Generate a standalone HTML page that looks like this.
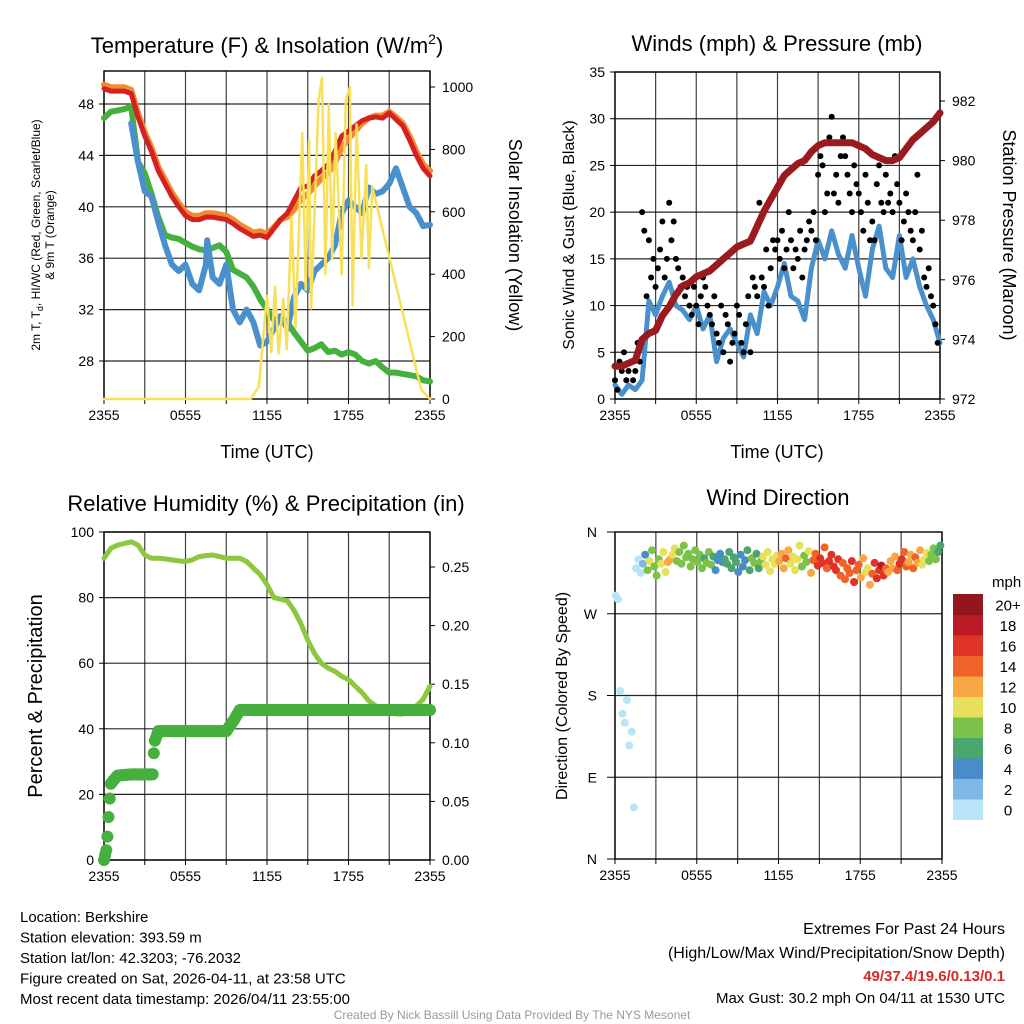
<!DOCTYPE html>
<html><head><meta charset="utf-8">
<style>
html,body{margin:0;padding:0;background:#fff;}
svg{display:block;font-family:"Liberation Sans",Arial,sans-serif;}
</style></head>
<body>
<svg id="c" width="1024" height="1024" viewBox="0 0 1024 1024" xmlns="http://www.w3.org/2000/svg"></svg>
<script>
// ---------- DATA (half-hourly unless noted) ----------
const xTickLabels = ["2355","0555","1155","1755","2355"];
const tempTicks = [28,32,36,40,44,48];
const solarTicks = [0,200,400,600,800,1000];
const windTicks = [0,5,10,15,20,25,30,35];
const presTicks = [972,974,976,978,980,982];
const rhTicks = [0,20,40,60,80,100];
const precipTicks = [0.00,0.05,0.10,0.15,0.20,0.25];
const dirTickLabels = ["N","E","S","W","N"];
const dirTickVals = [0,90,180,270,360];
const cbarLabels = ["0","2","4","6","8","10","12","14","16","18","20+"];

const tempRed = [49.2,49.0,49.0,49.0,48.8,47.0,45.5,44.3,42.8,41.8,40.8,40.0,39.3,39.0,39.0,39.2,39.2,39.1,39.0,38.7,38.3,38.0,37.7,37.8,37.6,38.3,39.0,39.5,40.5,41.5,41.6,42.4,42.8,43.3,44.3,45.5,45.9,46.3,46.7,46.9,47.0,46.9,47.3,46.8,46.3,45.2,44.0,43.0,42.4];
const temp9m = [49.5,49.3,49.3,49.3,49.1,47.3,45.8,44.6,43.1,42.1,41.1,40.3,39.6,39.3,39.3,39.5,39.5,39.4,39.3,39.0,38.6,38.3,38.0,38.1,37.9,38.4,39.0,39.2,39.8,40.6,41.0,41.6,42.2,42.6,43.4,44.6,45.3,45.9,46.5,46.9,47.1,47.1,47.4,47.0,46.5,45.5,44.3,43.3,42.8];
const dewGreen = [46.9,47.4,47.5,47.6,47.8,43.5,42.6,41.0,39.2,37.8,37.6,37.5,37.2,36.9,36.7,36.6,36.8,37.0,36.5,35.1,34.8,34.5,33.8,32.8,32.0,31.2,31.3,31.0,30.2,29.5,28.8,29.0,29.3,28.7,28.8,28.5,28.7,28.5,28.0,27.8,28.0,27.5,27.1,27.1,27.0,26.9,26.8,26.5,26.4];
const chillT = [2.0,2.5,3,3.5,4,4.5,5,5.5,6,6.5,7,7.5,7.6,8,8.5,9,9.5,10,10.5,11,11.5,12,12.5,13,13.5,14,14.5,15,15.5,16,16.5,17,17.5,18,18.5,19,19.5,20,20.5,21,21.5,22,22.5,23,23.5,24];
const chillBlue = [46.5,43.5,41.2,40.8,38.8,37.0,35.5,35.0,35.5,34.0,33.5,35.5,37.4,34.5,34.0,35.5,32.0,31.0,32.0,31.0,29.2,29.5,30.5,31.5,30.5,33.0,34.0,33.5,35.0,35.5,36.0,37.0,39.5,40.5,40.0,39.5,41.5,41.0,41.2,41.8,43.0,41.5,40.0,39.5,38.5,38.6];
const solarT = [0,10.8,11.4,11.75,12.0,12.3,12.6,12.85,13.2,13.45,13.8,14.1,14.6,14.85,15.1,15.25,15.8,16.05,16.3,16.55,16.8,17.05,17.5,17.8,18.1,18.3,18.6,18.95,19.3,19.5,19.75,23.35,24];
const solarV = [0,0,40,210,330,150,360,146,321,160,583,230,852,350,830,290,958,1030,400,943,450,852,400,958,1000,300,880,450,750,420,680,30,0];

const windBlue = [1.5,0.5,1.5,1.0,2.0,10.5,9.0,11.0,12.5,10.0,9.5,8.5,10.0,7.5,9.0,4.0,6.5,7.5,6.0,4.5,9.0,7.0,11.5,10.0,12.0,14.5,11.0,10.5,8.5,14.0,17.0,15.0,18.0,15.5,14.0,17.5,14.0,11.0,16.0,18.5,14.0,13.0,17.5,13.0,15.0,12.0,10.0,8.5,6.0];
const pressure = [973.1,973.1,973.2,973.3,974.0,974.2,974.3,974.8,975.1,975.5,975.8,975.9,976.1,976.2,976.3,976.5,976.7,976.9,977.1,977.2,977.3,977.8,978.3,978.7,979.1,979.5,979.7,979.9,980.0,980.3,980.5,980.6,980.6,980.6,980.6,980.6,980.5,980.4,980.2,980.1,980.0,980.0,980.1,980.4,980.7,980.9,981.1,981.3,981.6];
// gusts every 10 minutes
const gusts = [2,1,4,3,5,2, 3,4,2,3,6,4, 20,18,11,17,13,15, 12,14,16,19,13,15, 21,17,19,15,14,12, 13,11,12,10,9,12, 10,8,11,13,12,10, 9,8,11,7,6,10, 5,9,8,4,6,7, 10,9,6,5,8,11, 5,13,12,11,21,13, 12,16,10,14,17,16, 17,15,18,14,16,20, 17,14,16,15,18,13, 16,17,19,18,20,17, 24,26,25,20,22,28, 30.2,22,24,21,26,28, 26,24,22,20,25,23, 22,20,18,24,21,17, 19,17,23,25,21,20, 24,21,22,20,26,23, 21,17,19,22,20,18, 17,20,24,16,18,13, 12,14,11,10,8,6];
const rh = [92,95,96,96.5,97,96,93,92,92,91.8,91.5,91.2,91,91.5,92.5,92.8,93,92.5,92,92,92,91,89,87,84,80,79.5,79,76,72,67,63,60,58.5,57.5,56,55,53,51,48.5,47,45.5,45,44.5,44.5,45.5,47,49,53];
const precipT = [0,0.1,0.2,0.3,0.4,0.5,0.7,1.0,2.0,3.6,3.7,4.0,9.0,9.6,10.0,24];
const precipV = [0,0.005,0.01,0.03,0.05,0.065,0.068,0.072,0.073,0.073,0.10,0.11,0.11,0.12,0.128,0.128];
// wind direction every 10 minutes (deg)
const windDir = [290,286,185,160,150,175,125,140,57,
320,330,315,325,335,318,328,340,322,312,330,325,338,316,327,
330,335,342,328,338,325,345,332,336,322,330,340,327,335,320,331,326,338,324,333,318,329,336,327,
330,325,338,320,332,327,316,335,322,329,340,318,331,326,336,320,328,333,324,338,317,330,325,334,
328,336,320,331,340,325,333,318,330,345,322,334,327,339,315,329,336,323,331,326,343,320,328,335,
322,318,330,312,326,308,320,315,328,305,318,324,310,331,316,320,302,314,326,309,318,323,312,320,
316,328,320,333,318,325,330,338,322,327,335,320,332,326,340,324,330,337,328,335,342,330,338,345];

const cbarColors = ["#b9e3f7","#7fb8e4","#4a8cc8","#4aa66d","#7cc24a","#e7e05a","#f7a845","#ef6329","#de3326","#bb1a24","#92161b"];

// ---------- helpers ----------
const NS="http://www.w3.org/2000/svg";
const svg=document.getElementById('c');
function mk(tag,attrs,parent,text){const e=document.createElementNS(NS,tag);for(const k in attrs)e.setAttribute(k,attrs[k]);if(text!==undefined)e.textContent=text;(parent||svg).appendChild(e);return e;}
function lin(d0,d1,r0,r1){return v=>r0+(v-d0)/(d1-d0)*(r1-r0);}
function interp(ts,vs,t){if(t<=ts[0])return vs[0];for(let i=1;i<ts.length;i++){if(t<=ts[i]){const f=(t-ts[i-1])/(ts[i]-ts[i-1]);return vs[i-1]+f*(vs[i]-vs[i-1]);}}return vs[vs.length-1];}
const halfT = rh.map((_,i)=>i*0.5);

function frame(name,x0,x1,y0,y1,hTicks,yS,xS){
  const g=mk('g',{});
  
  
  for(let h=0;h<=24;h+=3){const x=xS(h);mk('line',{x1:x,x2:x,y1:y0,y2:y1,stroke:'#000','stroke-width':1.2,'stroke-opacity':0.75},g);}
  hTicks.forEach(v=>{const y=yS(v);mk('line',{x1:x0,x2:x1,y1:y,y2:y,stroke:'#000','stroke-width':1.2,'stroke-opacity':0.85},g);});
  mk('rect',{x:x0,y:y0,width:x1-x0,height:y1-y0,fill:'none',stroke:'#000','stroke-width':1.4},g);
  return g;
}
function xTicks(xS,yb,name){
  const g=mk('g',{});
  
  
  for(let h=0;h<=24;h+=3){mk('line',{x1:xS(h),x2:xS(h),y1:yb,y2:yb+5,stroke:'#000'},g);}
  xTickLabels.forEach((l,i)=>{mk('text',{x:xS(i*6),y:yb+21,'text-anchor':'middle','font-size':14},g,l);});
}
function yTicks(vals,yS,x,side,fmt,name){
  const g=mk('g',{});
  
  
  vals.forEach(v=>{const y=yS(v);
    mk('line',{x1:x,x2:x+(side==='l'?-5:5),y1:y,y2:y,stroke:'#000'},g);
    mk('text',{x:side==='l'?x-10:x+12,y:y+5,'text-anchor':side==='l'?'end':'start','font-size':14},g,fmt(v));});
}
function path(pts,attrs,name){
  const d=pts.map((p,i)=>(i?'L':'M')+p[0].toFixed(1)+','+p[1].toFixed(1)).join('');
  const e=mk('path',Object.assign({d:d,fill:'none','stroke-linejoin':'round','stroke-linecap':'round'},attrs));
  
  
  return e;
}
function text(x,y,s,attrs,name){const e=mk('text',Object.assign({x:x,y:y},attrs),svg,s);return e;}

// ---------- Panel 1 ----------
{
const X0=104,X1=430,Y0=71,Y1=399;
const xS=lin(0,24,X0,X1), tS=lin(28,48,361,104), sS=lin(0,1000,399,87);
frame('temperature',X0,X1,Y0,Y1,tempTicks,tS,xS);
xTicks(xS,Y1,'temperature');
yTicks(tempTicks,tS,X0,'l',v=>v,'temperature-y-tick-labels');
yTicks(solarTicks,sS,X1,'r',v=>v,'solar-y-tick-labels');
path(dewGreen.map((v,i)=>[xS(halfT[i]),tS(v)]),{stroke:'#46b03e','stroke-width':6},'dewpoint-line');
path(chillBlue.map((v,i)=>[xS(chillT[i]),tS(v)]),{stroke:'#4a90cc','stroke-width':6},'windchill-line');
path(temp9m.map((v,i)=>[xS(halfT[i]),tS(v)]),{stroke:'#f28a30','stroke-width':6},'temp-9m-line');
path(tempRed.map((v,i)=>[xS(halfT[i]),tS(v)]),{stroke:'#d42222','stroke-width':5},'temp-2m-line');
path(solarV.map((v,i)=>[xS(solarT[i]),sS(v)]),{stroke:'#f8e05a','stroke-width':2.5},'solar-line');
text(267,53,'',{'text-anchor':'middle','font-size':22},'temperature-title').innerHTML='Temperature (F) &amp; Insolation (W/m<tspan dy="-9" font-size="14">2</tspan><tspan dy="9">)</tspan>';
text(267,458,'Time (UTC)',{'text-anchor':'middle','font-size':18},'temperature-x-title');
const t1=text(0,0,'',{'text-anchor':'middle','font-size':12,transform:'translate(40,235) rotate(-90)'},'temperature-y-title');
t1.innerHTML='2m T, T<tspan dy="3" font-size="9">d</tspan><tspan dy="-3">, HI/WC (Red, Green, Scarlet/Blue)</tspan>';
text(0,0,'& 9m T (Orange)',{'text-anchor':'middle','font-size':12,transform:'translate(54,235) rotate(-90)'},'temperature-y-title-2');
text(0,0,'Solar Insolation (Yellow)',{'text-anchor':'middle','font-size':18,transform:'translate(509,235) rotate(90)'},'solar-y-title');
}

// ---------- Panel 2 ----------
{
const X0=615,X1=940,Y0=72,Y1=399;
const xS=lin(0,24,X0,X1), wS=lin(0,35,399,72), pS=lin(972,982,399,101);
frame('winds',X0,X1,Y0,Y1,windTicks,wS,xS);
xTicks(xS,Y1,'winds');
yTicks(windTicks,wS,X0,'l',v=>v,'wind-y-tick-labels');
yTicks(presTicks,pS,X1,'r',v=>v,'pressure-y-tick-labels');
path(windBlue.map((v,i)=>[xS(halfT[i]),wS(v)]),{stroke:'#4a90cc','stroke-width':5},'wind-speed-line');
const g=mk('g',{});


gusts.forEach((v,i)=>{const c=mk('circle',{cx:xS(i/6).toFixed(1),cy:wS(v).toFixed(1),r:3,fill:'#000'},g);

});
path(pressure.map((v,i)=>[xS(halfT[i]),pS(v)]),{stroke:'#9a1a1e','stroke-width':7},'pressure-line');
text(777,51,'Winds (mph) & Pressure (mb)',{'text-anchor':'middle','font-size':22},'winds-title');
text(777,458,'Time (UTC)',{'text-anchor':'middle','font-size':18},'winds-x-title');
text(0,0,'Sonic Wind & Gust (Blue, Black)',{'text-anchor':'middle','font-size':16,transform:'translate(574,235) rotate(-90)'},'wind-y-title');
text(0,0,'Station Pressure (Maroon)',{'text-anchor':'middle','font-size':18,transform:'translate(1003,235) rotate(90)'},'pressure-y-title');
}

// ---------- Panel 3 ----------
{
const X0=104,X1=430,Y0=532,Y1=860;
const xS=lin(0,24,X0,X1), rS=lin(0,100,860,532), qS=lin(0,0.25,860,567);
frame('humidity',X0,X1,Y0,Y1,rhTicks,rS,xS);
xTicks(xS,Y1,'humidity');
yTicks(rhTicks,rS,X0,'l',v=>v,'humidity-y-tick-labels');
yTicks(precipTicks,qS,X1,'r',v=>v.toFixed(2),'precip-y-tick-labels');
path(rh.map((v,i)=>[xS(halfT[i]),rS(v)]),{stroke:'#8dc63f','stroke-width':5},'humidity-line');
const g=mk('g',{});


for(let k=0;k<=288;k++){const t=k/12;const v=interp(precipT,precipV,t);
  const c=mk('circle',{cx:xS(t).toFixed(1),cy:qS(v).toFixed(1),r:6,fill:'#46b03e'},g);
  
  }
text(266,511,'Relative Humidity (%) & Precipitation (in)',{'text-anchor':'middle','font-size':22},'humidity-title');
text(0,0,'Percent & Precipitation',{'text-anchor':'middle','font-size':20,transform:'translate(42,696) rotate(-90)'},'humidity-y-title');
}

// ---------- Panel 4 ----------
{
const X0=615,X1=942,Y0=532,Y1=859;
const xS=lin(0,24,X0,X1), dS=lin(0,360,859,532);
frame('direction',X0,X1,Y0,Y1,[90,180,270],dS,xS);
xTicks(xS,Y1,'direction');
const g0=mk('g',{});


dirTickVals.forEach((v,i)=>{mk('line',{x1:X0,x2:X0-8,y1:dS(v),y2:dS(v),stroke:'#000'},g0);mk('text',{x:X0-18,y:dS(v)+5,'text-anchor':'end','font-size':14},g0,dirTickLabels[i]);});
const g=mk('g',{});


windDir.forEach((d,i)=>{const t=i/6+0.05;const sp=interp(halfT,windBlue,t);
  const idx=Math.max(0,Math.min(10,Math.floor(sp/2)));
  const c=mk('circle',{cx:xS(t).toFixed(1),cy:dS(d).toFixed(1),r:4,fill:cbarColors[idx]},g);
  
  });
text(778,505,'Wind Direction',{'text-anchor':'middle','font-size':22},'direction-title');
text(0,0,'Direction (Colored By Speed)',{'text-anchor':'middle','font-size':16,transform:'translate(567,696) rotate(-90)'},'direction-y-title');
// colorbar
const cb=mk('g',{});


const top=594,h=20.5;
for(let i=0;i<11;i++){const y=top+(10-i)*h;
  mk('rect',{x:953,y:y,width:30,height:h+0.5,fill:cbarColors[i]},cb);
  mk('text',{x:1008,y:y+h/2+6,'text-anchor':'middle','font-size':15},cb,cbarLabels[i]);}
mk('text',{x:992,y:587,'font-size':15},cb,'mph');
}

// ---------- Footer ----------
const info=["Location: Berkshire","Station elevation: 393.59 m","Station lat/lon: 42.3203; -76.2032","Figure created on Sat, 2026-04-11, at 23:58 UTC","Most recent data timestamp: 2026/04/11 23:55:00"];
info.forEach((s,i)=>text(20,922+i*20.5,s,{'font-size':15},'station-info-line'));
text(1005,934,'Extremes For Past 24 Hours',{'text-anchor':'end','font-size':16},'extremes-title');
text(1005,958,'(High/Low/Max Wind/Precipitation/Snow Depth)',{'text-anchor':'end','font-size':16},'extremes-subtitle');
text(1005,981,'49/37.4/19.6/0.13/0.1',{'text-anchor':'end','font-size':15,'font-weight':'bold',fill:'#d42a2a'},'extremes-values');
text(1005,1003,'Max Gust: 30.2 mph On 04/11 at 1530 UTC',{'text-anchor':'end','font-size':15},'max-gust');
text(512,1019,'Created By Nick Bassill Using Data Provided By The NYS Mesonet',{'text-anchor':'middle','font-size':12,fill:'#999'},'credit');
</script>
</body></html>
